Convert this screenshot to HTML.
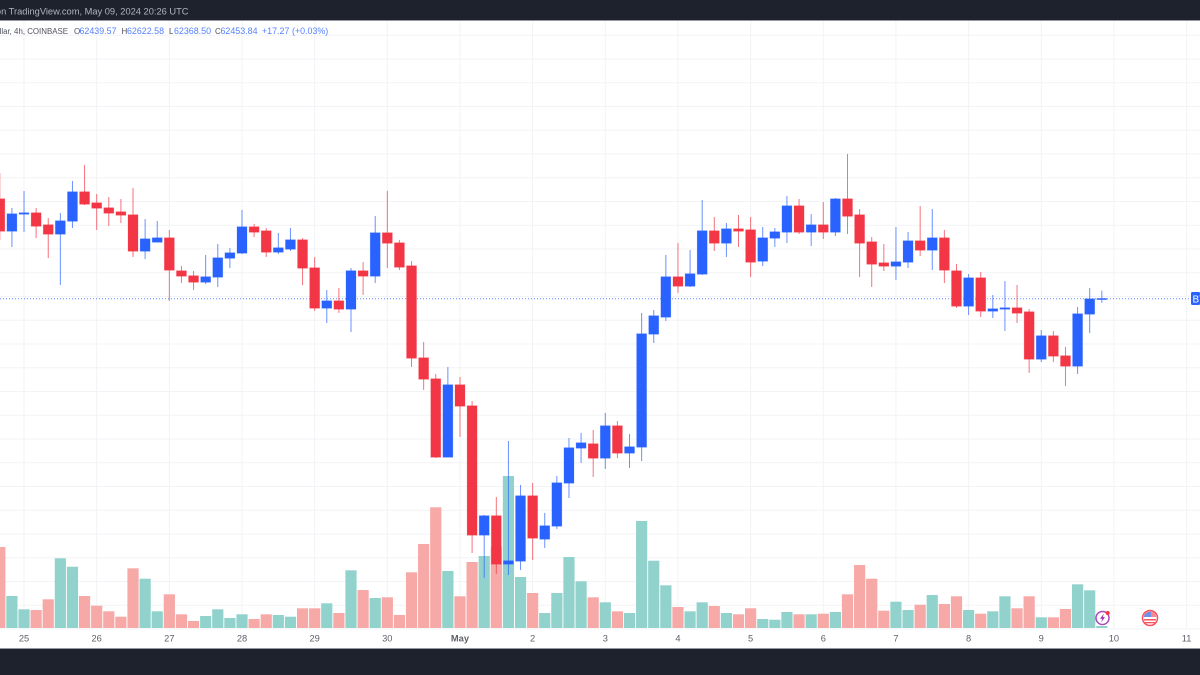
<!DOCTYPE html>
<html lang="en">
<head>
<meta charset="utf-8">
<title>BTC/USD 4h candlestick chart</title>
<style>
html,body{margin:0;padding:0;background:#fff;width:1200px;height:675px;overflow:hidden}
svg{display:block;font-family:"Liberation Sans",sans-serif}
</style>
</head>
<body>
<svg id="chart" xmlns="http://www.w3.org/2000/svg" width="1200" height="675" viewBox="0 0 1200 675">
  <rect x="0" y="0" width="1200" height="675" fill="#ffffff"/>
  <g id="grid"></g>
  <g id="volumes"></g>
  <line id="priceLine" x1="0" x2="1191" stroke="#2962ff" stroke-width="1" stroke-dasharray="1 2" opacity="0.75"/>
  <g id="candles"></g>
  <g id="ticks"></g>

  <g>
    <rect x="1191" y="292" width="9" height="13" rx="1.5" fill="#2962ff"/>
    <text x="1192.5" y="302.5" font-size="10" fill="#ffffff">BTC</text>
  </g>

  <g font-size="8.9">
    <text x="68" y="34" text-anchor="end" font-size="7.9" fill="#50535e">Bitcoin / U.S. Dollar, 4h, COINBASE</text>
    <text x="74" y="34" font-size="8" fill="#50535e">O</text>
    <text x="79.500" y="34" fill="#2962ff" fill-opacity="0.8">62439.57</text>
    <text x="121.500" y="34" font-size="8" fill="#50535e">H</text>
    <text x="127" y="34" fill="#2962ff" fill-opacity="0.8">62622.58</text>
    <text x="169" y="34" font-size="8" fill="#50535e">L</text>
    <text x="174" y="34" fill="#2962ff" fill-opacity="0.8">62368.50</text>
    <text x="215" y="34" font-size="8" fill="#50535e">C</text>
    <text x="220.500" y="34" fill="#2962ff" fill-opacity="0.8">62453.84</text>
    <text x="262" y="34" fill="#2962ff" fill-opacity="0.8">+17.27</text>
    <text x="292" y="34" fill="#2962ff" fill-opacity="0.8">(+0.03%)</text>
  </g>

  <g>
    <circle cx="1102.500" cy="618" r="6.500" fill="#ffffff" stroke="#ab47bc" stroke-width="1.500"/>
    <path d="M1104 613.500 L1100 618.800 L1102.400 618.800 L1101 622.500 L1105 617.300 L1102.600 617.300 Z" fill="#9c27b0"/>
    <circle cx="1107.700" cy="613" r="2" fill="#f23645"/>
  </g>
  <g>
    <circle cx="1150" cy="618" r="7.500" fill="#ffffff" stroke="#f7525f" stroke-width="1.500"/>
    <path d="M1143.800 617 A6.200 6.200 0 0 1 1156.200 617 Z" fill="#f58a90"/>
    <path d="M1143.800 617 A6.200 6.200 0 0 1 1151 611.900 L1151 617 Z" fill="#6f8fe8"/>
    <rect x="1144" y="619" width="12" height="1.500" fill="#f7525f"/>
    <rect x="1145" y="622" width="10" height="1.300" fill="#f7525f"/>
  </g>

  <g>
    <rect x="0" y="0" width="1200" height="20" fill="#1e222d"/>
    <rect x="0" y="20" width="1200" height="1" fill="#9598a1"/>
    <text x="188.500" y="14.500" text-anchor="end" font-size="9.300" fill="#b2b5be">Published on TradingView.com, May 09, 2024 20:26 UTC</text>
  </g>
  <g>
    <rect x="0" y="648" width="1200" height="1" fill="#9598a1"/>
    <rect x="0" y="649" width="1200" height="26" fill="#1e222d"/>
  </g>
</svg>

<script>
const opens = [64552,63879,64237,64258,64005,63816,64089,64700,64468,64363,64279,64216,63458,63647,63731,63037,62932,62805,62911,63310,63416,63963,63879,63437,63500,63689,63100,62258,62405,62237,63037,62932,63837,63626,63142,61205,60763,59121,60637,60195,57480,57880,56869,56932,58300,57395,57669,58574,59311,59395,59100,59774,59206,59332,61711,62069,62911,62721,62974,63879,63626,63921,63900,63247,63731,63858,64405,63858,64005,63858,64552,64216,63647,63205,63142,63226,63668,63479,63731,63037,62300,62889,62195,62237,62258,62174,61184,61669,61248,61037,62132,62439.57];
const highs = [65100,64363,64721,64363,64152,64258,64931,65268,64658,64594,64552,64784,64131,64089,63900,63142,63037,63374,63605,63521,64321,64026,63942,63837,63942,63731,63332,62637,62679,63100,63226,64194,64721,63689,63247,61542,60869,61016,60805,60300,57901,58279,59458,58532,58574,57943,58722,59521,59627,59690,60048,59879,59606,62153,62216,63374,63626,63479,64531,64173,64047,64216,64173,63963,63942,64615,64552,64237,64489,64573,65500,64342,63752,63605,63963,63858,64405,64342,63900,63184,62974,63016,62532,62826,62742,62237,61795,61774,61437,62279,62679,62622.58];
const lows = [63689,63542,63858,63731,63310,62742,63942,64426,63900,63984,64047,63332,63289,63647,62405,62784,62637,62763,62700,63100,63395,63752,63332,63395,63458,62742,62195,61942,62153,61753,62532,62784,63100,63058,61016,60532,59100,59121,59543,57101,56574,56659,56638,56743,56953,57206,57606,58258,58995,58701,58869,59100,58890,59037,61521,61984,62574,62700,62953,63458,63332,63542,62911,63142,63542,63626,63816,63563,63710,63773,63816,62911,62700,63037,62847,63100,63353,63058,62784,62258,62111,62069,62048,61774,61942,60890,61121,61121,60616,60869,61732,62368.50];
const closes = [63879,64237,64258,63984,63816,64089,64700,64447,64363,64258,64216,63458,63710,63731,63058,62932,62805,62911,63310,63416,63963,63858,63437,63521,63689,63100,62258,62405,62237,63037,62932,63837,63626,63121,61205,60763,59121,60637,60195,57480,57880,56869,56932,58300,57416,57669,58574,59311,59416,59100,59774,59206,59332,61711,62090,62911,62721,62974,63879,63626,63921,63879,63226,63731,63858,64405,63858,64005,63858,64552,64194,63626,63184,63142,63226,63668,63479,63731,63058,62300,62889,62195,62237,62258,62153,61184,61669,61248,61037,62132,62447,62453.84];
const volumes = [810,320,187,180,287,697,613,320,223,167,113,597,493,167,337,137,70,120,187,100,137,90,137,130,113,197,197,247,150,577,380,300,307,130,557,840,1207,570,317,660,720,807,1520,510,350,150,350,710,467,307,257,167,150,1070,673,427,210,167,257,220,150,137,197,90,83,160,137,137,143,160,337,630,493,173,263,180,233,330,240,317,180,143,167,317,197,317,107,107,190,437,377,20];
const dayLabels = ["25","26","27","28","29","30","May","2","3","4","5","6","7","8","9","10","11"];
const firstDayIndex = 2;
const barsPerDay = 6;
const gridPriceTop = 68000;
const gridPriceBottom = 55500;
const gridPriceStep = 500;

const svgNS = "http://www.w3.org/2000/svg";
function xOf(i){ return -0.2 + 12.11 * i; }
function yOf(p){ return 296.5 + (62500 - p) * 0.0475; }
function volY(v){ return 628 - v * 0.1; }
function mk(tag, attrs, parent){
  const el = document.createElementNS(svgNS, tag);
  for (const k in attrs) el.setAttribute(k, attrs[k]);
  parent.appendChild(el);
  return el;
}

const grid = document.getElementById("grid");
const volG = document.getElementById("volumes");
const candleG = document.getElementById("candles");
const ticksG = document.getElementById("ticks");

for (let p = gridPriceBottom; p <= gridPriceTop; p += gridPriceStep) {
  const y = yOf(p);
  if (y < 21 || y > 648) continue;
  const ln = mk("line", {x1:0, x2:1200, y1:y, y2:y, stroke:"#f2f3f6", "stroke-width":1}, grid);
  
  
}

dayLabels.forEach(function(label, d){
  const x = xOf(firstDayIndex + d * barsPerDay);
  const ln = mk("line", {x1:x, x2:x, y1:21, y2:628, stroke:"#f2f3f6", "stroke-width":1}, grid);
  
  
  const t = mk("text", {x:x, y:641.5, "text-anchor":"middle", "font-size":"9.3", fill:"#5d606b"}, ticksG);
  
  
  if (label === "May") t.setAttribute("font-weight", "bold");
  t.textContent = label;
});

volumes.forEach(function(v, i){
  const up = closes[i] >= opens[i];
  const top = volY(v);
  const r = mk("rect", {x:xOf(i) - 5.6, y:top, width:11.2, height:628 - top,
    fill: up ? "#92d2cc" : "#f7a9a7"}, volG);
  
  
});

const pl = document.getElementById("priceLine");
const lastY = yOf(closes[closes.length - 1]);
pl.setAttribute("y1", lastY);
pl.setAttribute("y2", lastY);

opens.forEach(function(o, i){
  const c = closes[i];
  const up = c >= o;
  const col = up ? "#2962ff" : "#f23645";
  const x = xOf(i);
  const g = mk("g", {}, candleG);
  
  
  mk("line", {x1:x, x2:x, y1:yOf(highs[i]), y2:yOf(lows[i]), stroke:col, "stroke-width":1, "stroke-opacity":0.7}, g);
  const t = yOf(Math.max(o, c));
  const b = yOf(Math.min(o, c));
  mk("rect", {x:x - 5, y:t - 0.3, width:10, height:Math.max(b - t, 0.6) + 0.6, fill:col,
    stroke:col, "stroke-opacity":0.3, "stroke-width":0.7}, g);
});
</script>
</body>
</html>
